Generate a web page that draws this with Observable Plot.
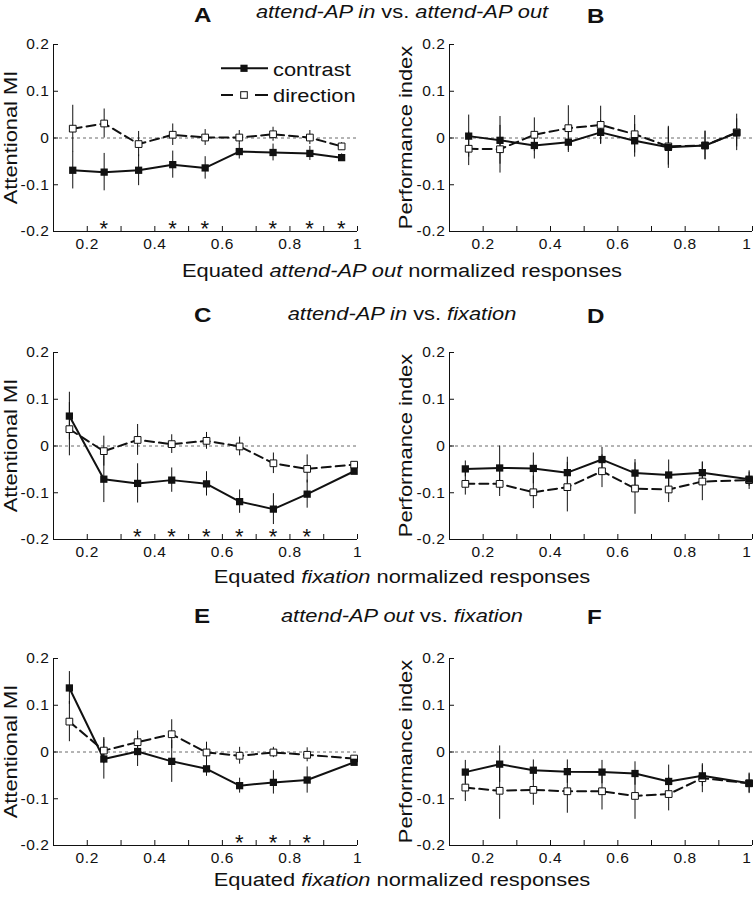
<!DOCTYPE html>
<html><head><meta charset="utf-8">
<script src="https://cdn.jsdelivr.net/npm/d3@7"></script>
<script src="https://cdn.jsdelivr.net/npm/@observablehq/plot@0.6"></script>
<style>
html,body{margin:0;padding:0;background:#fff;overflow:hidden;}
#root{position:relative;width:753px;height:900px;font-family:"Liberation Sans",Arial,sans-serif;}
#root svg{overflow:visible;}
.plot{position:absolute;}
#overlay{position:absolute;left:0;top:0;pointer-events:none;}
</style></head>
<body><div id="root"></div>
<script>
// ---------- data ----------
const xRow1  = [0.157, 0.25, 0.352, 0.453, 0.549, 0.65, 0.75, 0.859, 0.953];
const xRow23 = [0.147, 0.249, 0.349, 0.45, 0.553, 0.651, 0.751, 0.851, 0.99];

const contrastA     = [-0.069, -0.073, -0.069, -0.057, -0.064, -0.029, -0.031, -0.033, -0.042];
const contrastErrA  = [0.040, 0.040, 0.033, 0.029, 0.024, 0.016, 0.018, 0.015, 0.008];
const directionA    = [0.020, 0.031, -0.013, 0.007, 0.001, 0.001, 0.008, 0.001, -0.018];
const directionErrA = [0.050, 0.031, 0.027, 0.023, 0.017, 0.015, 0.015, 0.015, 0.008];
const starsA = [1, 3, 4, 6, 7, 8];

const contrastB     = [0.004, -0.005, -0.016, -0.009, 0.012, -0.006, -0.020, -0.016, 0.011];
const contrastErrB  = [0.045, 0.051, 0.029, 0.022, 0.026, 0.035, 0.045, 0.031, 0.030];
const directionB    = [-0.023, -0.024, 0.007, 0.021, 0.028, 0.008, -0.018, -0.016, 0.012];
const directionErrB = [0.036, 0.051, 0.036, 0.048, 0.040, 0.040, 0.040, 0.030, 0.039];

const contrastC     = [0.064, -0.071, -0.080, -0.073, -0.081, -0.119, -0.135, -0.103, -0.054];
const contrastErrC  = [0.051, 0.050, 0.042, 0.026, 0.026, 0.025, 0.033, 0.030, 0.006];
const directionC    = [0.036, -0.011, 0.013, 0.004, 0.011, -0.001, -0.037, -0.049, -0.040];
const directionErrC = [0.057, 0.032, 0.033, 0.020, 0.018, 0.020, 0.022, 0.030, 0.006];
const starsC = [2, 3, 4, 5, 6, 7];

const contrastD     = [-0.049, -0.047, -0.048, -0.057, -0.029, -0.058, -0.062, -0.057, -0.071];
const contrastErrD  = [0.017, 0.047, 0.033, 0.033, 0.026, 0.029, 0.032, 0.023, 0.015];
const directionD    = [-0.081, -0.081, -0.099, -0.088, -0.054, -0.091, -0.093, -0.076, -0.073];
const directionErrD = [0.024, 0.027, 0.035, 0.053, 0.035, 0.055, 0.028, 0.041, 0.020];

const contrastE     = [0.137, -0.015, 0.001, -0.020, -0.036, -0.072, -0.065, -0.060, -0.022];
const contrastErrE  = [0.035, 0.043, 0.032, 0.045, 0.016, 0.016, 0.025, 0.028, 0.006];
const directionE    = [0.065, 0.003, 0.021, 0.038, -0.001, -0.008, -0.001, -0.006, -0.014];
const directionErrE = [0.043, 0.028, 0.024, 0.031, 0.022, 0.018, 0.011, 0.015, 0.006];
const starsE = [5, 6, 7];

const contrastF     = [-0.043, -0.026, -0.039, -0.042, -0.043, -0.046, -0.063, -0.051, -0.067];
const contrastErrF  = [0.025, 0.039, 0.022, 0.025, 0.025, 0.025, 0.035, 0.023, 0.020];
const directionF    = [-0.076, -0.083, -0.081, -0.084, -0.084, -0.094, -0.090, -0.056, -0.067];
const directionErrF = [0.030, 0.061, 0.033, 0.047, 0.040, 0.050, 0.036, 0.031, 0.022];

const xTickLabels = [0.2, 0.4, 0.6, 0.8, 1];
const xTickMarks  = [0.2, 0.3, 0.4, 0.5, 0.6, 0.7, 0.8, 0.9, 1.0];
const yTicks      = [-0.2, -0.1, 0, 0.1, 0.2];
const xDomain = [0.1, 1];
const yDomain = [-0.2, 0.2];

const panelLetters = ["A", "B", "C", "D", "E", "F"];
const leftYLabel = "Attentional MI";
const rightYLabel = "Performance index";
const rowTitles = [
  [["attend-AP in", true], [" vs. ", false], ["attend-AP out", true]],
  [["attend-AP in", true], [" vs. ", false], ["fixation", true]],
  [["attend-AP out", true], [" vs. ", false], ["fixation", true]]
];
const rowXLabels = [
  [["Equated ", false], ["attend-AP out", true], [" normalized responses", false]],
  [["Equated ", false], ["fixation", true], [" normalized responses", false]],
  [["Equated ", false], ["fixation", true], [" normalized responses", false]]
];
const legendLabels = ["contrast", "direction"];

// ---------- layout ----------
const INK = "#111";
const frameTops = [44, 352, 658];
const frameH = 187;
const mTop = 10, mBottom = 30;

const panels = [
  {xs: xRow1,  c: contrastA, ce: contrastErrA, d: directionA, de: directionErrA, stars: starsA, col: 0, row: 0},
  {xs: xRow1,  c: contrastB, ce: contrastErrB, d: directionB, de: directionErrB, stars: [],     col: 1, row: 0},
  {xs: xRow23, c: contrastC, ce: contrastErrC, d: directionC, de: directionErrC, stars: starsC, col: 0, row: 1},
  {xs: xRow23, c: contrastD, ce: contrastErrD, d: directionD, de: directionErrD, stars: [],     col: 1, row: 1},
  {xs: xRow23, c: contrastE, ce: contrastErrE, d: directionE, de: directionErrE, stars: starsE, col: 0, row: 2},
  {xs: xRow23, c: contrastF, ce: contrastErrF, d: directionF, de: directionErrF, stars: [],     col: 1, row: 2}
];

const root = document.getElementById("root");

function makePanel(p) {
  const left = p.col === 0;
  const width = left ? 376 : 383;
  const mLeft = left ? 53 : 79;
  const mRight = left ? 19 : 1;
  const frameW = width - mLeft - mRight;
  const rows = p.xs.map((x, i) => ({x, c: p.c[i], ce: p.ce[i], d: p.d[i], de: p.de[i]}));
  const lastTick = xTickLabels[xTickLabels.length - 1];
  const innerTicks = xTickLabels.slice(0, -1);
  const chart = Plot.plot({
    width, height: frameH + mTop + mBottom,
    marginLeft: mLeft, marginRight: mRight, marginTop: mTop, marginBottom: mBottom,
    style: {fontFamily: "'Liberation Sans', Arial, sans-serif", fontSize: "15.5px", letterSpacing: "0.6px",
            color: INK, background: "transparent", overflow: "visible"},
    x: {domain: xDomain, label: null},
    y: {domain: yDomain, label: null},
    marks: [
      Plot.ruleY([0], {stroke: "#444", strokeWidth: 0.8, strokeDasharray: "3,3"}),
      Plot.ruleX(rows, {x: "x", y1: r => r.d - r.de, y2: r => r.d + r.de, stroke: INK, strokeWidth: 1}),
      Plot.ruleX(rows, {x: "x", y1: r => r.c - r.ce, y2: r => r.c + r.ce, stroke: INK, strokeWidth: 1}),
      Plot.line(rows, {x: "x", y: "d", stroke: INK, strokeWidth: 2, strokeDasharray: "9,5"}),
      Plot.line(rows, {x: "x", y: "c", stroke: INK, strokeWidth: 2}),
      Plot.dot(rows, {x: "x", y: "d", symbol: "square", r: 3.8, fill: "white", stroke: INK, strokeWidth: 1}),
      Plot.dot(rows, {x: "x", y: "c", symbol: "square", r: 4.1, fill: INK, stroke: "none"}),
      Plot.text(p.stars, {x: i => p.xs[i], frameAnchor: "bottom", text: () => "*", fontSize: 22, dy: 4, fill: INK}),
      Plot.ruleX(xTickMarks, {x: d => d, insetTop: frameH - 5, stroke: INK, strokeWidth: 1}),
      Plot.ruleY(yTicks, {y: d => d, insetRight: frameW - 5, stroke: INK, strokeWidth: 1}),
      Plot.ruleX([xDomain[0]], {stroke: INK, strokeWidth: 1}),
      Plot.ruleY([yDomain[0]], {stroke: INK, strokeWidth: 1}),
      Plot.axisX({ticks: innerTicks, tickSize: 0, tickPadding: 6, tickFormat: d => String(d), label: null, fill: INK}),
      Plot.axisX({ticks: [lastTick], tickSize: 0, tickPadding: 6, tickFormat: d => String(d), label: null, fill: INK,
                  textAnchor: left ? "middle" : "end", dx: left ? 0 : -1}),
      Plot.axisY({ticks: yTicks, tickSize: 0, tickPadding: 4, tickFormat: d => d === 0 ? "0" : String(d), label: null, fill: INK})
    ]
  });
  chart.classList.add("plot");
  chart.style.left = (left ? 0 : 370) + "px";
  chart.style.top = (frameTops[p.row] - mTop) + "px";
  root.appendChild(chart);
}
panels.forEach(makePanel);

// ---------- overlay text (titles, axis labels, legend) ----------
const NS = "http://www.w3.org/2000/svg";
const ov = document.createElementNS(NS, "svg");
ov.setAttribute("id", "overlay");
ov.setAttribute("width", 753);
ov.setAttribute("height", 900);
root.appendChild(ov);

function el(name, attrs, parent = ov) {
  const e = document.createElementNS(NS, name);
  for (const k in attrs) e.setAttribute(k, attrs[k]);
  parent.appendChild(e);
  return e;
}
function richText(parts, x, y, {size = 19, anchor = "middle", rotate = 0, weight = "normal", sx = 1.15} = {}) {
  const t = el("text", {
    transform: `translate(${x},${y}) rotate(${rotate}) scale(${sx},1)`,
    "text-anchor": anchor, "font-size": size, "font-weight": weight,
    "font-family": "'Liberation Sans', Arial, sans-serif", fill: INK
  });
  parts.forEach(([s, it]) => {
    const ts = el("tspan", {"font-style": it ? "italic" : "normal"}, t);
    ts.textContent = s;
  });
  return t;
}

const titleBase = [22, 322, 623];
const subBase = [18, 320, 622];
const xLabBase = [277, 583, 886];
const labelCenterX = 402;

for (let r = 0; r < 3; r++) {
  richText([[panelLetters[2 * r], false]], 194, titleBase[r], {size: 21, anchor: "start", weight: "bold"});
  richText([[panelLetters[2 * r + 1], false]], 587, titleBase[r] + 1, {size: 21, anchor: "start", weight: "bold"});
  richText(rowTitles[r], labelCenterX, subBase[r]);
  richText(rowXLabels[r], labelCenterX, xLabBase[r]);
  const cy = frameTops[r] + frameH / 2;
  richText([[leftYLabel, false]], 17, cy, {rotate: -90});
  richText([[rightYLabel, false]], 412, cy, {rotate: -90});
}

// legend in panel A
const lg = el("g", {});
el("line", {x1: 221, x2: 268, y1: 68.3, y2: 68.3, stroke: INK, "stroke-width": 2}, lg);
el("rect", {x: 244 - 3.6, y: 68.3 - 3.6, width: 7.2, height: 7.2, fill: INK}, lg);
el("line", {x1: 221, x2: 233, y1: 95, y2: 95, stroke: INK, "stroke-width": 2}, lg);
el("line", {x1: 255, x2: 268, y1: 95, y2: 95, stroke: INK, "stroke-width": 2}, lg);
el("rect", {x: 244 - 3.3, y: 95 - 3.3, width: 6.6, height: 6.6, fill: "white", stroke: INK, "stroke-width": 1}, lg);
richText([[legendLabels[0], false]], 273, 76, {anchor: "start"});
richText([[legendLabels[1], false]], 273, 102, {anchor: "start"});
</script>
</body></html>
